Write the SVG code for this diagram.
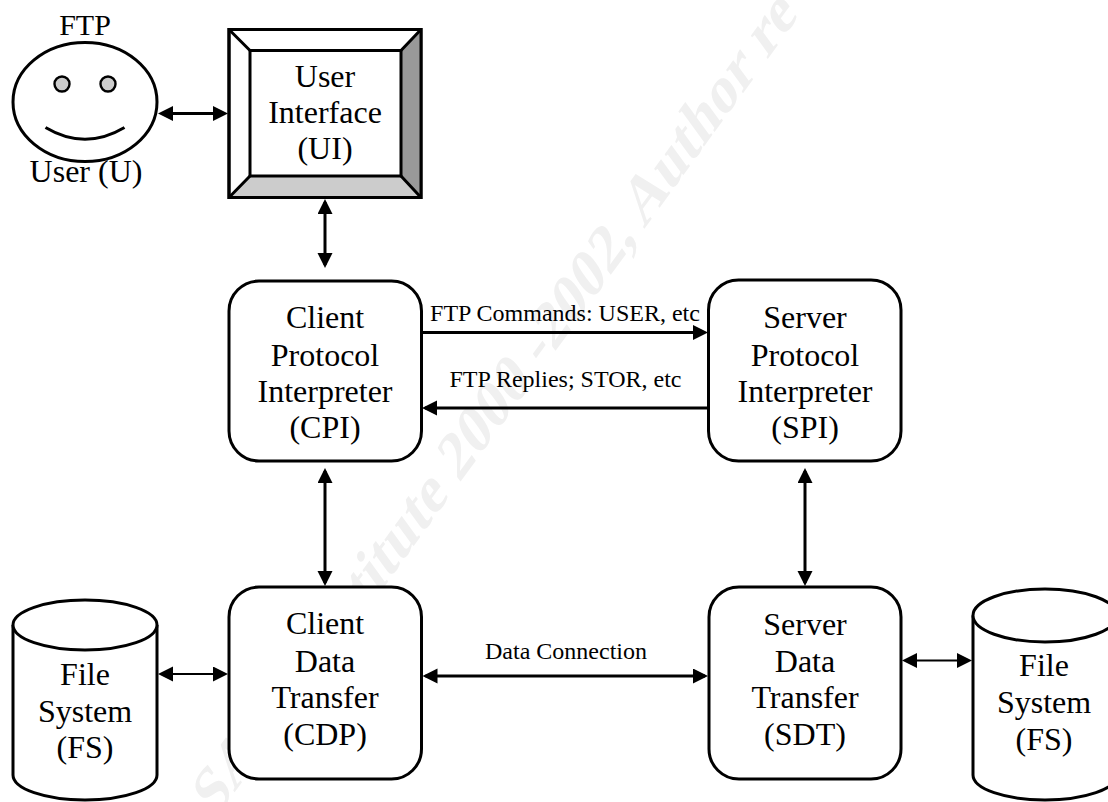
<svg xmlns="http://www.w3.org/2000/svg" width="1108" height="802" viewBox="0 0 1108 802">
<style>
text{font-family:"Liberation Serif","Times New Roman",serif;fill:#000;text-anchor:middle}
.big{font-size:32px}
.small{font-size:24px}
.wm{font-size:52px;font-weight:bold;fill:#f0f0f0}
.shape{fill:#fff;stroke:#000;stroke-width:3}
.conn{fill:none;stroke:#000;stroke-width:3}
.thin{stroke-width:1.8}
</style>
<defs>
<marker id="head" markerUnits="userSpaceOnUse" markerWidth="16" markerHeight="16" refX="12" refY="7.5" orient="auto-start-reverse">
<path d="M0 0L15 7.5L0 15Z" fill="#000"/>
</marker>
</defs>
<rect width="1108" height="802" fill="#fff"/>
<g id="watermark">
<text class="wm" style="text-anchor:end" transform="translate(554 353) scale(1 1.376) rotate(-45)">SANS Institute 2000 - </text>
<text class="wm" style="text-anchor:start" transform="translate(554 353) scale(1 1.376) rotate(-45)">2002, Author re</text>
</g>
<g id="connectors">
<line class="conn" x1="161" y1="113.500" x2="225" y2="113.500" marker-start="url(#head)" marker-end="url(#head)"/>
<line class="conn" x1="325" y1="202" x2="325" y2="265" marker-start="url(#head)" marker-end="url(#head)"/>
<line class="conn" x1="422" y1="332.500" x2="705" y2="332.500" marker-end="url(#head)"/>
<line class="conn" x1="708" y1="408" x2="425" y2="408" marker-end="url(#head)"/>
<line class="conn" x1="325" y1="471" x2="325" y2="583" marker-start="url(#head)" marker-end="url(#head)"/>
<line class="conn" x1="805" y1="471" x2="805" y2="583" marker-start="url(#head)" marker-end="url(#head)"/>
<line class="conn" x1="425.500" y1="676" x2="705" y2="676" marker-start="url(#head)" marker-end="url(#head)"/>
<line class="conn thin" x1="161" y1="674" x2="225" y2="674" marker-start="url(#head)" marker-end="url(#head)"/>
<line class="conn thin" x1="905" y1="660.500" x2="969" y2="660.500" marker-start="url(#head)" marker-end="url(#head)"/>
</g>
<g id="user">
<ellipse class="shape" cx="85" cy="102" rx="72" ry="59.500"/>
<circle cx="62" cy="84" r="7.500" fill="#ccc" stroke="#000" stroke-width="2.400"/>
<circle cx="108" cy="84" r="7.500" fill="#ccc" stroke="#000" stroke-width="2.400"/>
<path d="M45.500 127.500Q85 151 124.500 127.500" fill="none" stroke="#000" stroke-width="3"/>
<text class="big" x="85" y="35" style="font-size:30px">FTP</text>
<text class="big" x="86" y="182">User (U)</text>
</g>
<g id="ui">
<rect class="shape" x="229" y="29.500" width="192" height="168"/>
<path d="M421 29.500L401 50.500V176L421 197.500Z" fill="#999"/>
<path d="M229 197.500L250 176H401L421 197.500Z" fill="#ccc"/>
<path d="M229 29.500L250 50.500M421 29.500L401 50.500M229 197.500L250 176M421 197.500L401 176" fill="none" stroke="#000" stroke-width="3"/>
<rect x="229" y="29.500" width="192" height="168" fill="none" stroke="#000" stroke-width="3"/>
<rect class="shape" x="250" y="50.500" width="151" height="125.500"/>
<text class="big" x="325" y="87">User</text>
<text class="big" x="325" y="123">Interface</text>
<text class="big" x="325" y="159">(UI)</text>
</g>
<g id="cpi">
<rect class="shape" x="229" y="281" width="192.500" height="180" rx="30"/>
<text class="big" x="325" y="328">Client</text>
<text class="big" x="325" y="366">Protocol</text>
<text class="big" x="325" y="402">Interpreter</text>
<text class="big" x="325" y="438">(CPI)</text>
</g>
<g id="spi">
<rect class="shape" x="708.500" y="280" width="192.500" height="181" rx="30"/>
<text class="big" x="805" y="328">Server</text>
<text class="big" x="805" y="366">Protocol</text>
<text class="big" x="805" y="402">Interpreter</text>
<text class="big" x="805" y="438">(SPI)</text>
</g>
<g id="cdp">
<rect class="shape" x="229" y="587" width="192.500" height="192" rx="30"/>
<text class="big" x="325" y="634">Client</text>
<text class="big" x="325" y="672">Data</text>
<text class="big" x="325" y="708">Transfer</text>
<text class="big" x="325" y="745">(CDP)</text>
</g>
<g id="sdt">
<rect class="shape" x="709" y="587" width="192" height="192" rx="30"/>
<text class="big" x="805" y="635">Server</text>
<text class="big" x="805" y="672">Data</text>
<text class="big" x="805" y="708">Transfer</text>
<text class="big" x="805" y="745">(SDT)</text>
</g>
<g id="fs-left">
<path class="shape" d="M13 625V775A72 25 0 0 0 157 775V625"/>
<ellipse class="shape" cx="85" cy="625" rx="72" ry="25"/>
<text class="big" x="85" y="685">File</text>
<text class="big" x="85" y="722">System</text>
<text class="big" x="85" y="758">(FS)</text>
</g>
<g id="fs-right">
<path class="shape" d="M973 615.500V775A72 25 0 0 0 1117 775V615.500"/>
<ellipse class="shape" cx="1045" cy="615.500" rx="72" ry="26.500"/>
<text class="big" x="1044" y="676">File</text>
<text class="big" x="1044" y="713">System</text>
<text class="big" x="1044" y="750">(FS)</text>
</g>
<g id="labels">
<text class="small" x="565" y="321">FTP Commands: USER, etc</text>
<text class="small" x="565.500" y="387">FTP Replies; STOR, etc</text>
<text class="small" x="566" y="659">Data Connection</text>
</g>
</svg>
